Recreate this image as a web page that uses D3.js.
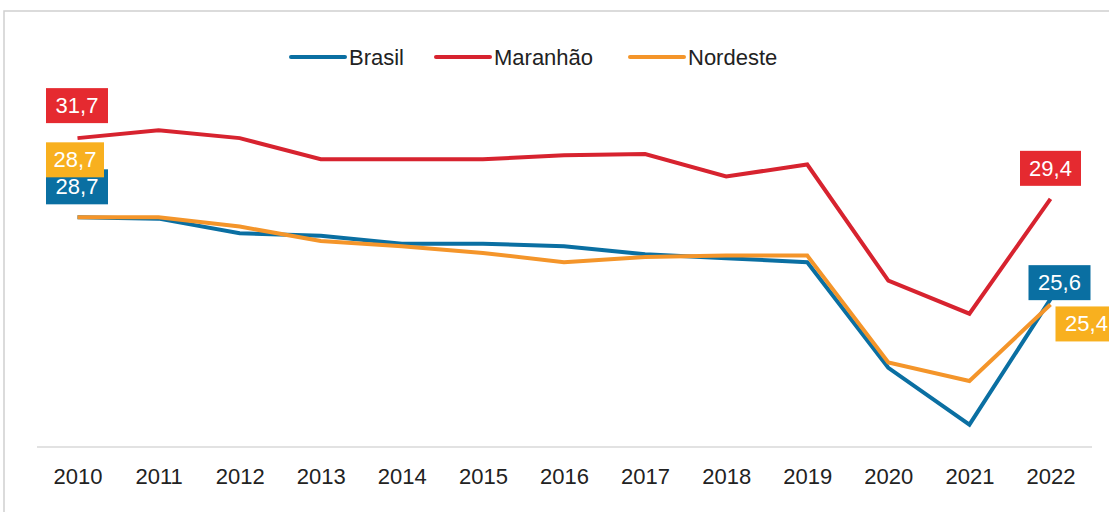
<!DOCTYPE html>
<html><head><meta charset="utf-8">
<script src="https://cdn.jsdelivr.net/npm/d3@7"></script>
<style>body{margin:0;background:#fff;font-family:"Liberation Sans",Arial,sans-serif}</style>
</head><body><svg id="c" width="1109" height="512"></svg>
<script>
const years = [2010,2011,2012,2013,2014,2015,2016,2017,2018,2019,2020,2021,2022];
const brasil =   [28.7,28.65,28.1,28.0,27.7,27.7,27.6,27.3,27.15,27.0,23.0,20.85,25.6];
const maranhao = [31.7,32.0,31.7,30.9,30.9,30.9,31.05,31.1,30.25,30.7,26.3,25.05,29.4];
const nordeste = [28.7,28.7,28.35,27.8,27.6,27.35,27.0,27.2,27.25,27.25,23.2,22.5,25.4];
const seriesNames = ["Brasil","Maranhão","Nordeste"];
const lineColors = ["#0a6fa2","#d7232f","#f4952a"];
const boxColors = ["#0a6fa2","#e52a30","#f8b01f"];
const yDomain = [20, 35];

const svg = d3.select("#c");
svg.append("rect").attr("x",4).attr("y",11).attr("width",1200).attr("height",600)
  .attr("fill","none").attr("stroke","#cfcfcf").attr("stroke-width",1.5);

const x = d3.scalePoint().domain(years).range([77.5,1050.5]);
const y = d3.scaleLinear().domain(yDomain).range([447, 51]);

// baseline
svg.append("line").attr("x1",37).attr("x2",1092).attr("y1",y(yDomain[0])).attr("y2",y(yDomain[0]))
  .attr("stroke","#d9d9d9").attr("stroke-width",1.5);

const xAxis = svg.append("g").attr("transform",`translate(0,${y(yDomain[0])})`)
  .call(d3.axisBottom(x).tickSize(0).tickPadding(21).tickFormat(d=>String(d)));
xAxis.select(".domain").remove();
xAxis.selectAll("text").attr("font-size","22px").attr("fill","#222").attr("font-family","Liberation Sans, Arial, sans-serif");

const data = [brasil, maranhao, nordeste];
const line = d3.line().x((d,i)=>x(years[i])).y(d=>y(d));
// draw order: Maranhão, Brasil, Nordeste on top
[1,0,2].forEach(k=>{
  svg.append("path").datum(data[k]).attr("d",line).attr("fill","none")
    .attr("stroke",lineColors[k]).attr("stroke-width",4).attr("stroke-linejoin","miter");
});

// legend
const legendX = [291, 436, 630];
seriesNames.forEach((n,k)=>{
  const g = svg.append("g").attr("transform",`translate(${legendX[k]},57)`);
  g.append("line").attr("x1",0).attr("x2",54).attr("stroke",lineColors[k]).attr("stroke-width",4).attr("stroke-linecap","round");
  g.append("text").attr("x",58).attr("y",8).attr("font-size","22px").attr("fill","#222").text(n);
});

// value labels
const fmt = v => d3.format(".1f")(v).replace(".",",");
function label(k, i, dx, dy, w){
  const cx = x(years[i]) + dx, cy = y(data[k][i]) + dy;
  const g = svg.append("g");
  g.append("rect").attr("x",cx - w/2).attr("y",cy-17).attr("width",w).attr("height",35).attr("fill",boxColors[k]);
  g.append("text").attr("x",cx).attr("y",cy+8).attr("text-anchor","middle").attr("font-size","22px")
    .attr("fill","#fff").text(fmt(data[k][i]));
}
label(1,0,-0.5,-33,62);
label(0,0,-0.5,-31,62);
label(2,0,-2.5,-58,58);
label(1,12,0,-31,61);
label(0,12,9,-17,62);
label(2,12,36,19,62);
</script></body></html>
